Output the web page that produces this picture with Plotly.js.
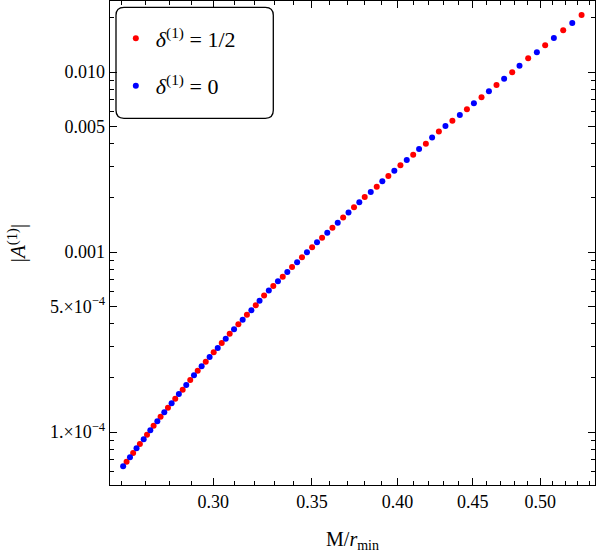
<!DOCTYPE html>
<html>
<head>
<meta charset="utf-8">
<script src="https://cdn.plot.ly/plotly-3.0.1.min.js"></script>
<style>
  html, body { margin: 0; padding: 0; background: #ffffff; }
  #chart { width: 600px; height: 553px; }
</style>
</head>
<body>
<div id="chart"></div>
<script>
// |A^(1)| against M/r_min on log-log axes, for two values of delta^(1)

// delta^(1) = 1/2
const xHalf = [0.2620, 0.2647, 0.2675, 0.2705, 0.2733, 0.2763, 0.2795, 0.2827, 0.2860, 0.2894,
               0.2928, 0.2965, 0.3002, 0.3040, 0.3078, 0.3120, 0.3162, 0.3206, 0.3248, 0.3295,
               0.3344, 0.3393, 0.3446, 0.3501, 0.3556, 0.3614, 0.3675, 0.3738, 0.3801, 0.3873,
               0.3944, 0.4019, 0.4100, 0.4182, 0.4268, 0.4359, 0.4459, 0.4562, 0.4670, 0.4786,
               0.4907, 0.5039, 0.5183, 0.5334];
const yHalf = [6.839e-5, 7.644e-5, 8.577e-5, 9.661e-5, 1.084e-4, 1.216e-4, 1.365e-4, 1.531e-4, 1.718e-4, 1.945e-4,
               2.191e-4, 2.458e-4, 2.772e-4, 3.122e-4, 3.516e-4, 3.966e-4, 4.484e-4, 5.057e-4, 5.732e-4, 6.473e-4,
               7.291e-4, 8.254e-4, 9.345e-4, 1.062e-3, 1.201e-3, 1.365e-3, 1.555e-3, 1.771e-3, 2.021e-3, 2.305e-3,
               2.644e-3, 3.031e-3, 3.472e-3, 3.997e-3, 4.671e-3, 5.364e-3, 6.206e-3, 7.235e-3, 8.470e-3, 9.962e-3,
               1.192e-2, 1.407e-2, 1.705e-2, 2.074e-2];

// delta^(1) = 0
const xZero = [0.2606, 0.2634, 0.2661, 0.2691, 0.2719, 0.2749, 0.2779, 0.2811, 0.2843, 0.2876,
               0.2911, 0.2946, 0.2983, 0.3021, 0.3059, 0.3099, 0.3141, 0.3184, 0.3225, 0.3272,
               0.3319, 0.3368, 0.3420, 0.3473, 0.3528, 0.3585, 0.3644, 0.3706, 0.3769, 0.3837,
               0.3907, 0.3981, 0.4059, 0.4138, 0.4223, 0.4312, 0.4410, 0.4508, 0.4615, 0.4726,
               0.4841, 0.4974, 0.5108, 0.5257];
const yZero = [6.448e-5, 7.235e-5, 8.118e-5, 9.109e-5, 1.022e-4, 1.147e-4, 1.287e-4, 1.444e-4, 1.626e-4, 1.824e-4,
               2.065e-4, 2.317e-4, 2.610e-4, 2.929e-4, 3.299e-4, 3.720e-4, 4.206e-4, 4.744e-4, 5.363e-4, 6.111e-4,
               6.874e-4, 7.743e-4, 8.766e-4, 9.962e-4, 1.132e-3, 1.280e-3, 1.455e-3, 1.657e-3, 1.888e-3, 2.154e-3,
               2.470e-3, 2.829e-3, 3.244e-3, 3.735e-3, 4.327e-3, 5.012e-3, 5.769e-3, 6.700e-3, 7.812e-3, 9.180e-3,
               1.084e-2, 1.287e-2, 1.545e-2, 1.872e-2];

// axis ticks
const xTickVals = [0.30, 0.35, 0.40, 0.45, 0.50];
const xTickText = ['0.30', '0.35', '0.40', '0.45', '0.50'];
const xMinorVals = [0.26, 0.27, 0.28, 0.29, 0.31, 0.32, 0.33, 0.34, 0.36, 0.37, 0.38, 0.39,
                    0.41, 0.42, 0.43, 0.44, 0.46, 0.47, 0.48, 0.49, 0.51, 0.52, 0.53, 0.54];
const yTickVals = [0.01, 0.005, 0.001, 5e-4, 1e-4];
const yTickText = ['0.010', '0.005', '0.001', '5.\u00d710<sup>\u22124</sup>', '1.\u00d710<sup>\u22124</sup>'];
const yMinorVals = [6e-5, 7e-5, 8e-5, 9e-5, 2e-4, 3e-4, 4e-4, 6e-4, 7e-4, 8e-4, 9e-4,
                    2e-3, 3e-3, 4e-3, 6e-3, 7e-3, 8e-3, 9e-3, 2e-2];

const xRange = [0.2553, 0.5447];
const yRange = [5.08e-5, 0.0248];

const serif = 'Liberation Serif, Times New Roman, serif';
const W = 600, H = 553;
const M = { l: 110, r: 5, t: 1, b: 68 };

// rounded frame behind the legend, given in pixels and converted to paper units
function roundedBox(left, top, right, bottom, rad) {
  const pw = W - M.l - M.r, ph = H - M.t - M.b;
  const px = v => (v - M.l) / pw;
  const py = v => 1 - (v - M.t) / ph;
  const x0 = px(left), x1 = px(right), yt = py(top), yb = py(bottom);
  const rx = rad / pw, ry = rad / ph;
  return `M ${x0 + rx},${yt} L ${x1 - rx},${yt} Q ${x1},${yt} ${x1},${yt - ry} ` +
         `L ${x1},${yb + ry} Q ${x1},${yb} ${x1 - rx},${yb} ` +
         `L ${x0 + rx},${yb} Q ${x0},${yb} ${x0},${yb + ry} ` +
         `L ${x0},${yt - ry} Q ${x0},${yt} ${x0 + rx},${yt} Z`;
}

const traces = [
  {
    x: xHalf, y: yHalf, type: 'scatter', mode: 'markers',
    name: '<i>\u03b4</i><sup>(1)</sup> = 1/2', legendgroup: 'a',
    marker: { color: '#ff0000', size: 6 }
  },
  {
    x: xZero, y: yZero, type: 'scatter', mode: 'markers',
    name: '<i>\u03b4</i><sup>(1)</sup> = 0', legendgroup: 'b',
    marker: { color: '#0000ff', size: 6 }
  }
];

const axisCommon = {
  type: 'log',
  showline: true, linecolor: '#000', linewidth: 1.3, mirror: 'ticks',
  ticks: 'inside', ticklen: 7, tickwidth: 1, tickcolor: '#000',
  showgrid: false, zeroline: false,
  tickfont: { family: serif, size: 18, color: '#000' },
  tickmode: 'array'
};

const layout = {
  width: W, height: H,
  margin: M,
  paper_bgcolor: '#fff', plot_bgcolor: '#fff',
  showlegend: true,
  legend: {
    x: 0.012, y: 0.966, xanchor: 'left', yanchor: 'top',
    bgcolor: 'rgba(0,0,0,0)', borderwidth: 0,
    font: { family: serif, size: 22, color: '#000' },
    tracegroupgap: 16, itemsizing: 'trace'
  },
  xaxis: Object.assign({}, axisCommon, {
    range: xRange.map(Math.log10),
    tickvals: xTickVals, ticktext: xTickText,
    minor: { tickmode: 'array', tickvals: xMinorVals, ticks: 'inside', ticklen: 4, tickwidth: 1, tickcolor: '#000' },
    title: { text: 'M/<i>r</i><sub>min</sub>', font: { family: serif, size: 20, color: '#000' }, standoff: 22 }
  }),
  yaxis: Object.assign({}, axisCommon, {
    range: yRange.map(Math.log10),
    tickvals: yTickVals, ticktext: yTickText,
    minor: { tickmode: 'array', tickvals: yMinorVals, ticks: 'inside', ticklen: 4, tickwidth: 1, tickcolor: '#000' },
    title: { text: '|<i>A</i><sup>(1)</sup>|', font: { family: serif, size: 21, color: '#000' }, standoff: 18 }
  }),
  shapes: [{
    type: 'path', xref: 'paper', yref: 'paper', layer: 'above',
    path: roundedBox(116, 7.3, 273.3, 118.3, 8),
    line: { color: '#000', width: 1.3 }, fillcolor: 'rgba(0,0,0,0)'
  }]
};

Plotly.newPlot('chart', traces, layout, { displayModeBar: false, staticPlot: true });
</script>
</body>
</html>
